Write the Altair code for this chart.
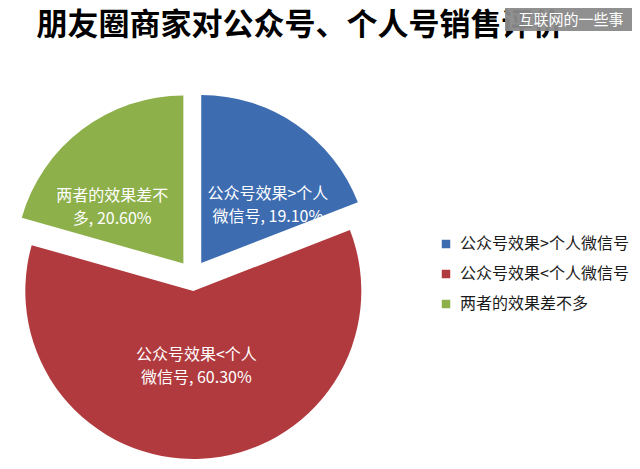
import altair as alt
import pandas as pd

# ---- data ----
categories = ["公众号效果>个人微信号", "公众号效果<个人微信号", "两者的效果差不多"]
shares = [19.1, 60.3, 20.6]
slice_labels = [
    "公众号效果>个人\n微信号, 19.10%",
    "公众号效果<个人\n微信号, 60.30%",
    "两者的效果差不\n多, 20.60%",
]
colors = ["#3D6CB1", "#B13A3E", "#8DB04B"]
title_text = "朋友圈商家对公众号、个人号销售评价"
watermark_text = "互联网的一些事"

FONT = "Noto Sans CJK SC"
CX, CY, EXPLODE, R = 184.6, 267.7, 15.3, 168

df = pd.DataFrame({
    "category": categories,
    "share": shares,
    "label": slice_labels,
    "order": list(range(len(categories))),
})

base = (
    alt.Chart(df)
    .transform_joinaggregate(total="sum(share)")
    .transform_window(cum="sum(share)", sort=[alt.SortField("order")], frame=[None, 0])
    .transform_calculate(start="2*PI*(datum.cum - datum.share)/datum.total")
    .transform_calculate(end="2*PI*datum.cum/datum.total")
    .transform_calculate(mid="(datum.start + datum.end)/2")
    .transform_calculate(ax=f"{CX} + {EXPLODE}*sin(datum.mid)")
    .transform_calculate(ay=f"{CY} - {EXPLODE}*cos(datum.mid)")
    .transform_calculate(lx="datum.ax + (datum.share > 50 ? 64 : 118)*sin(datum.mid)")
    .transform_calculate(ly="datum.ay - (datum.share > 50 ? 64 : 84)*cos(datum.mid)")
)

arcs = base.mark_arc(radius=R).encode(
    theta=alt.Theta("start:Q", scale=None),
    theta2="end:Q",
    x=alt.X("ax:Q", scale=None, axis=None),
    y=alt.Y("ay:Q", scale=None, axis=None),
    color=alt.Color(
        "category:N",
        scale=alt.Scale(domain=categories, range=colors),
        legend=alt.Legend(
            title=None,
            orient="none",
            legendX=430,
            legendY=228,
            symbolType="square",
            symbolSize=72,
            symbolStrokeWidth=0,
            labelFontSize=16,
            labelFont=FONT,
            labelColor="#1a1a1a",
            rowPadding=14,
            labelOffset=6,
            labelLimit=300,
        ),
    ),
)

labels = base.mark_text(
    color="white", fontSize=16, font=FONT, lineBreak="\n", lineHeight=23,
    align="center", baseline="middle",
).encode(
    x=alt.X("lx:Q", scale=None, axis=None),
    y=alt.Y("ly:Q", scale=None, axis=None),
    text="label:N",
)

title = alt.Chart(pd.DataFrame({"t": [title_text]})).mark_text(
    fontSize=31, fontWeight="bold", font=FONT, color="black",
    align="center", baseline="middle",
).encode(x=alt.value(292), y=alt.value(18), text="t:N")

wm_box = alt.Chart(pd.DataFrame({"t": [watermark_text]})).mark_rect(
    color="#8a8a8a", opacity=0.95
).encode(x=alt.value(497), x2=alt.value(627), y=alt.value(0), y2=alt.value(23))

wm_text = alt.Chart(pd.DataFrame({"t": [watermark_text]})).mark_text(
    fontSize=15, font=FONT, color="white", align="center", baseline="middle",
).encode(x=alt.value(563), y=alt.value(11.5), text="t:N")

chart = (
    alt.layer(arcs, labels, title, wm_box, wm_text)
    .properties(width=624, height=453, autosize="none", padding=0, background="white")
    .configure_view(strokeWidth=0)
)

chart.save("out.html", embed_options={"renderer": "svg", "actions": False})
